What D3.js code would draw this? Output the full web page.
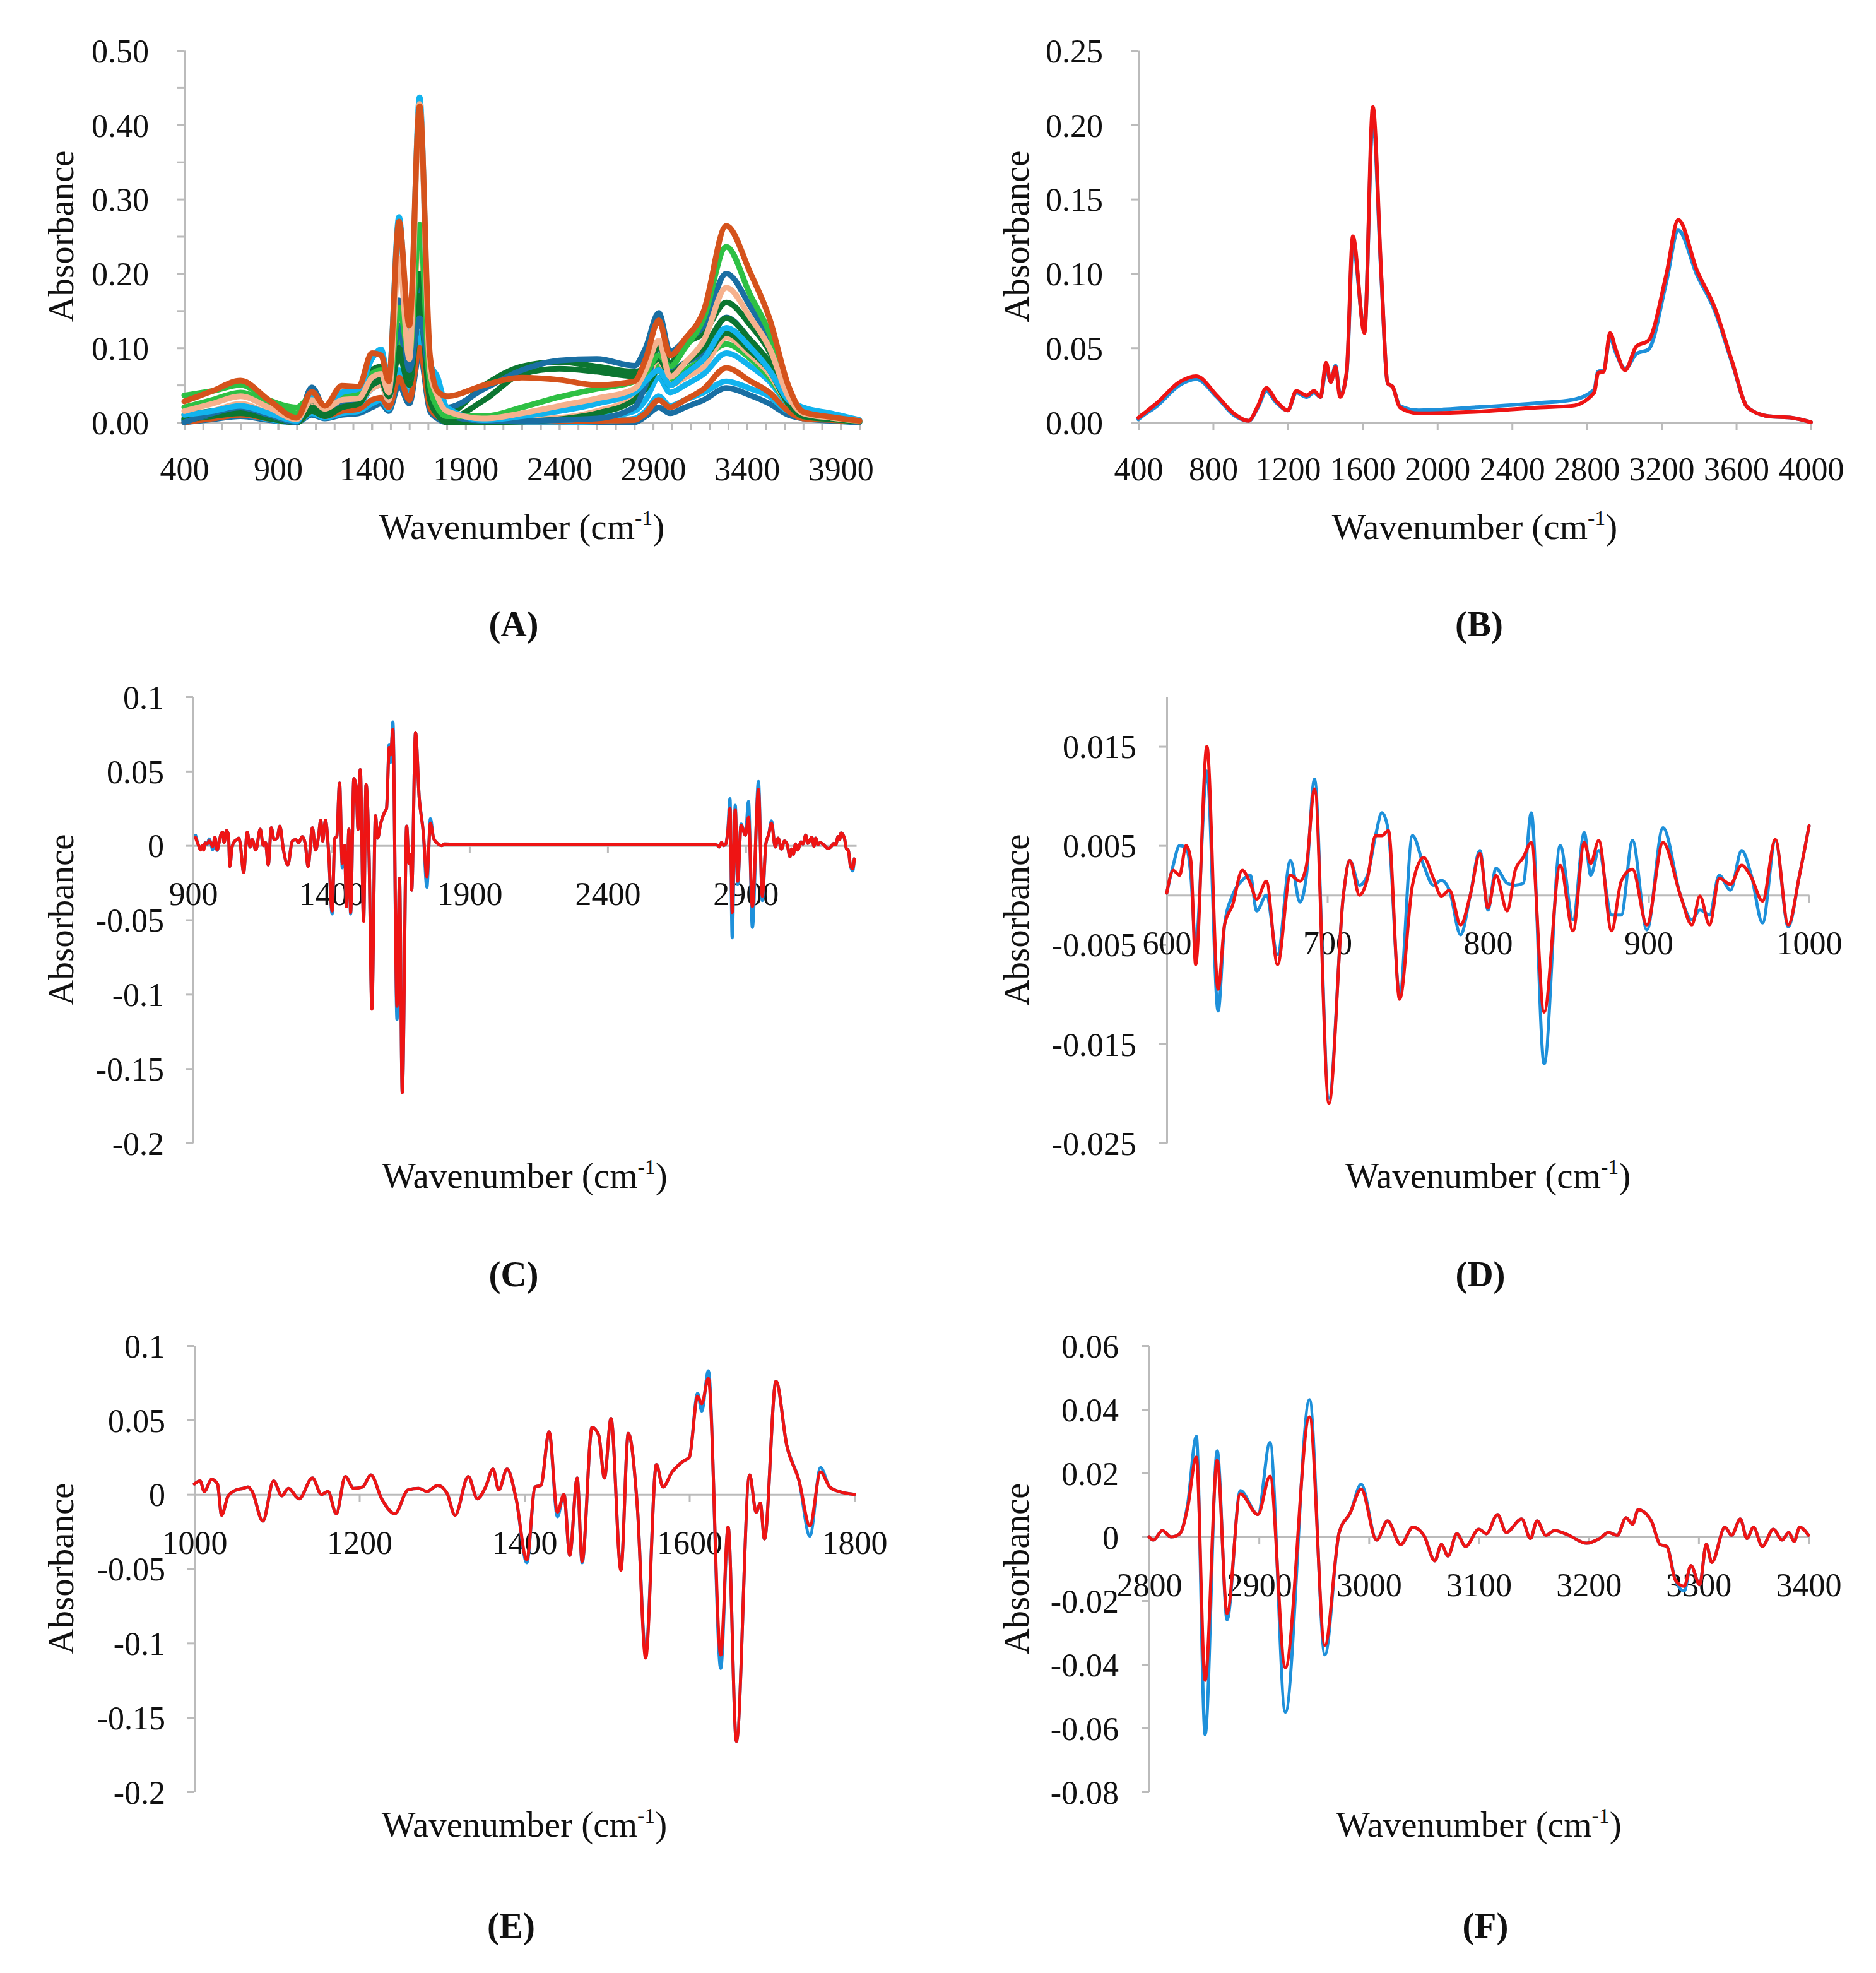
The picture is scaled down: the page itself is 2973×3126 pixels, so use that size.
<!DOCTYPE html>
<html>
<head>
<meta charset="utf-8">
<script src="https://cdn.jsdelivr.net/npm/d3@7"></script>
<style>
  body { margin: 0; background: #fff; }
  svg { display: block; }
</style>
</head>
<body>
<svg id="fig" width="2973" height="3126"></svg>
<script>
// ---------- panel A : raw spectra (values on a common wavenumber grid) ----------
const waveA = [400, 550, 700, 850, 1000, 1080, 1150, 1240, 1330, 1400, 1450, 1490, 1545, 1600, 1655, 1710, 1750, 1800, 2000, 2200, 2400, 2600, 2800, 2860, 2930, 2990, 3070, 3170, 3290, 3420, 3520, 3620, 3700, 3850, 4000];
const aOrange1   = [0.028, 0.042, 0.056, 0.030, 0.006, 0.041, 0.022, 0.049, 0.048, 0.093, 0.090, 0.055, 0.270, 0.130, 0.425, 0.090, 0.042, 0.035, 0.050, 0.060, 0.057, 0.050, 0.055, 0.085, 0.137, 0.090, 0.112, 0.150, 0.264, 0.200, 0.140, 0.050, 0.014, 0.007, 0.002];
const aPeach1    = [0.015, 0.025, 0.035, 0.020, 0.004, 0.030, 0.018, 0.030, 0.032, 0.060, 0.065, 0.040, 0.220, 0.085, 0.428, 0.070, 0.035, 0.015, 0.005, 0.012, 0.022, 0.032, 0.045, 0.070, 0.110, 0.061, 0.080, 0.110, 0.181, 0.140, 0.100, 0.035, 0.012, 0.006, 0.002];
const aCyan1     = [0.010, 0.015, 0.022, 0.012, 0.002, 0.035, 0.020, 0.040, 0.045, 0.085, 0.098, 0.055, 0.276, 0.100, 0.437, 0.080, 0.061, 0.020, 0.003, 0.008, 0.015, 0.025, 0.040, 0.055, 0.070, 0.050, 0.065, 0.085, 0.127, 0.100, 0.070, 0.030, 0.020, 0.012, 0.003];
const aPeach2    = [0.008, 0.015, 0.025, 0.012, 0.002, 0.028, 0.015, 0.025, 0.028, 0.045, 0.050, 0.030, 0.147, 0.080, 0.253, 0.050, 0.025, 0.010, 0.004, 0.004, 0.006, 0.015, 0.035, 0.055, 0.085, 0.050, 0.060, 0.075, 0.114, 0.090, 0.065, 0.025, 0.010, 0.005, 0.001];
const aGreen1    = [0.036, 0.042, 0.050, 0.030, 0.020, 0.035, 0.020, 0.035, 0.038, 0.065, 0.070, 0.045, 0.154, 0.090, 0.266, 0.050, 0.020, 0.008, 0.008, 0.020, 0.034, 0.045, 0.055, 0.065, 0.090, 0.075, 0.100, 0.140, 0.236, 0.170, 0.120, 0.040, 0.012, 0.006, 0.002];
const aDarkBlue1 = [0.000, 0.012, 0.020, 0.010, 0.000, 0.047, 0.020, 0.030, 0.035, 0.060, 0.065, 0.040, 0.164, 0.070, 0.140, 0.060, 0.030, 0.020, 0.045, 0.070, 0.083, 0.085, 0.076, 0.100, 0.147, 0.095, 0.110, 0.130, 0.200, 0.155, 0.110, 0.040, 0.015, 0.008, 0.002];
const aDarkGreen1 = [0.010, 0.015, 0.020, 0.010, 0.000, 0.030, 0.015, 0.035, 0.040, 0.070, 0.075, 0.050, 0.150, 0.125, 0.200, 0.050, 0.020, 0.012, 0.050, 0.075, 0.081, 0.075, 0.068, 0.075, 0.100, 0.080, 0.105, 0.120, 0.161, 0.130, 0.095, 0.035, 0.012, 0.006, 0.002];
const aDarkGreen2 = [0.005, 0.010, 0.015, 0.008, 0.000, 0.020, 0.010, 0.020, 0.025, 0.050, 0.055, 0.035, 0.100, 0.060, 0.170, 0.040, 0.015, 0.005, 0.030, 0.065, 0.072, 0.068, 0.062, 0.070, 0.085, 0.065, 0.080, 0.100, 0.140, 0.110, 0.080, 0.030, 0.010, 0.005, 0.001];
const aOrange2   = [0.000, 0.005, 0.010, 0.005, 0.000, 0.015, 0.008, 0.015, 0.018, 0.030, 0.033, 0.020, 0.060, 0.030, 0.100, 0.020, 0.008, 0.002, 0.001, 0.001, 0.001, 0.002, 0.003, 0.012, 0.030, 0.020, 0.030, 0.045, 0.073, 0.055, 0.040, 0.015, 0.005, 0.003, 0.001];
const aCyan2     = [0.005, 0.010, 0.018, 0.008, 0.000, 0.025, 0.012, 0.022, 0.025, 0.045, 0.050, 0.030, 0.120, 0.050, 0.200, 0.040, 0.030, 0.010, 0.002, 0.002, 0.003, 0.006, 0.015, 0.030, 0.060, 0.040, 0.050, 0.065, 0.093, 0.075, 0.055, 0.025, 0.018, 0.010, 0.002];
const aDarkBlue2 = [0.003, 0.010, 0.018, 0.008, 0.000, 0.030, 0.015, 0.025, 0.030, 0.050, 0.055, 0.035, 0.130, 0.060, 0.180, 0.045, 0.025, 0.010, 0.002, 0.002, 0.003, 0.005, 0.020, 0.050, 0.100, 0.070, 0.080, 0.095, 0.141, 0.110, 0.080, 0.030, 0.012, 0.006, 0.002];
const aDarkBlue3 = [0.000, 0.004, 0.008, 0.003, 0.000, 0.010, 0.005, 0.010, 0.012, 0.020, 0.025, 0.015, 0.050, 0.025, 0.093, 0.015, 0.005, 0.000, 0.000, 0.000, 0.000, 0.000, 0.000, 0.008, 0.020, 0.012, 0.020, 0.030, 0.046, 0.036, 0.025, 0.010, 0.005, 0.002, 0.000];
const aGreen2    = [0.020, 0.030, 0.040, 0.025, 0.012, 0.025, 0.012, 0.025, 0.028, 0.050, 0.055, 0.035, 0.110, 0.060, 0.200, 0.040, 0.015, 0.004, 0.003, 0.010, 0.020, 0.030, 0.042, 0.050, 0.076, 0.055, 0.070, 0.085, 0.105, 0.085, 0.060, 0.025, 0.008, 0.004, 0.001];
const aDarkGreen3 = [0.003, 0.008, 0.012, 0.005, 0.000, 0.015, 0.008, 0.020, 0.025, 0.055, 0.060, 0.035, 0.090, 0.050, 0.150, 0.030, 0.010, 0.000, 0.000, 0.001, 0.004, 0.012, 0.030, 0.045, 0.070, 0.050, 0.065, 0.085, 0.120, 0.095, 0.070, 0.025, 0.008, 0.004, 0.001];
const aCyan3     = [0.002, 0.006, 0.010, 0.004, 0.000, 0.012, 0.006, 0.012, 0.015, 0.025, 0.030, 0.018, 0.070, 0.035, 0.120, 0.025, 0.010, 0.002, 0.000, 0.000, 0.000, 0.001, 0.005, 0.015, 0.035, 0.022, 0.030, 0.040, 0.055, 0.045, 0.035, 0.015, 0.012, 0.008, 0.002];

// ---------- panel B : mean spectra ----------
const waveB = [400, 420, 500, 620, 710, 820, 910, 990, 1040, 1085, 1140, 1200, 1245, 1300, 1340, 1375, 1405, 1430, 1455, 1480, 1515, 1548, 1610, 1655, 1700, 1735, 1760, 1800, 1900, 2200, 2550, 2720, 2840, 2860, 2890, 2925, 2955, 3005, 3065, 3130, 3225, 3290, 3390, 3485, 3580, 3660, 3775, 3900, 4000];
const bRed  = [0.003, 0.005, 0.013, 0.027, 0.031, 0.018, 0.006, 0.001, 0.011, 0.023, 0.014, 0.008, 0.021, 0.018, 0.021, 0.017, 0.040, 0.027, 0.037, 0.017, 0.034, 0.125, 0.060, 0.212, 0.100, 0.026, 0.024, 0.010, 0.006, 0.007, 0.010, 0.011, 0.020, 0.033, 0.034, 0.060, 0.049, 0.035, 0.051, 0.055, 0.099, 0.136, 0.102, 0.077, 0.040, 0.010, 0.004, 0.003, 0.000];
const bBlue = [0.002, 0.004, 0.011, 0.025, 0.029, 0.017, 0.005, 0.001, 0.010, 0.021, 0.013, 0.008, 0.020, 0.017, 0.020, 0.017, 0.036, 0.027, 0.038, 0.018, 0.033, 0.120, 0.062, 0.205, 0.098, 0.026, 0.024, 0.011, 0.008, 0.010, 0.013, 0.015, 0.022, 0.034, 0.035, 0.057, 0.047, 0.036, 0.046, 0.049, 0.094, 0.129, 0.099, 0.075, 0.039, 0.010, 0.004, 0.003, 0.000];

// ---------- panel D : second derivative 600-1000 ----------
const waveD = [600, 604, 608, 612, 615, 618, 625, 632, 636, 641, 647, 652, 656, 662, 669, 677, 683, 687, 692, 701, 710, 714, 720, 725, 730, 734, 738, 745, 753, 760, 766, 771, 776, 783, 789, 795, 800, 805, 812, 817, 822, 827, 835, 845, 853, 860, 864, 869, 877, 883, 890, 899, 909, 920, 927, 932, 938, 944, 951, 958, 964, 971, 979, 987, 994, 1000];
const dRed  = [0.0002, 0.0025, 0.002, 0.005, 0.0035, -0.007, 0.015, -0.0095, -0.003, -0.001, 0.0025, 0.0012, -0.0004, 0.0014, -0.007, 0.002, 0.0014, 0.003, 0.0107, -0.021, 0.0, 0.0035, 0.0, 0.0017, 0.006, 0.006, 0.0065, -0.0105, 0.001, 0.0038, 0.0017, -0.0001, 0.0005, -0.003, 0.0, 0.0042, -0.0013, 0.002, -0.0016, 0.0025, 0.0038, 0.0053, -0.0118, 0.003, -0.0036, 0.0053, 0.0032, 0.0055, -0.0036, 0.0014, 0.0026, -0.003, 0.0053, -0.0001, -0.003, -0.0001, -0.003, 0.0017, 0.0011, 0.003, 0.0018, -0.0006, 0.0056, -0.003, 0.002, 0.007];
const dBlue = [0.0002, 0.003, 0.005, 0.0048, 0.002, -0.005, 0.0125, -0.0117, -0.003, 0.0, 0.0015, 0.002, -0.0016, 0.0, -0.006, 0.0035, -0.0007, 0.002, 0.0117, -0.0205, 0.0, 0.0035, 0.001, 0.002, 0.006, 0.0083, 0.0065, -0.01, 0.006, 0.003, 0.001, 0.0015, 0.0005, -0.004, 0.0, 0.0045, -0.0015, 0.0027, 0.0012, 0.001, 0.0012, 0.0083, -0.017, 0.005, -0.0025, 0.0063, 0.002, 0.0045, -0.002, -0.002, 0.0055, -0.0035, 0.0068, -0.0001, -0.0025, -0.0015, -0.002, 0.002, 0.0005, 0.0045, 0.002, -0.0028, 0.0055, -0.0032, 0.002, 0.007];

// ---------- panel E : second derivative 1000-1800 ----------
const waveE = [1000, 1007, 1012, 1021, 1028, 1033, 1041, 1051, 1059, 1065, 1070, 1083, 1096, 1106, 1114, 1127, 1143, 1154, 1162, 1172, 1183, 1193, 1204, 1214, 1227, 1243, 1259, 1272, 1282, 1295, 1306, 1316, 1332, 1343, 1353, 1362, 1369, 1379, 1390, 1403, 1413, 1420, 1430, 1440, 1448, 1455, 1464, 1470, 1482, 1490, 1497, 1505, 1517, 1526, 1537, 1547, 1560, 1568, 1579, 1592, 1600, 1610, 1615, 1623, 1638, 1647, 1657, 1673, 1681, 1686, 1691, 1705, 1718, 1733, 1746, 1759, 1770, 1781, 1800];
const eRed  = [0.007, 0.009, 0.002, 0.010, 0.007, -0.014, -0.001, 0.003, 0.004, 0.005, 0.002, -0.018, 0.009, -0.001, 0.004, -0.003, 0.011, 0.000, 0.002, -0.013, 0.012, 0.004, 0.005, 0.013, -0.003, -0.013, 0.003, 0.004, 0.002, 0.006, 0.001, -0.014, 0.012, -0.003, 0.005, 0.017, 0.003, 0.017, -0.003, -0.044, 0.005, 0.006, 0.042, -0.012, 0.000, -0.041, 0.011, -0.045, 0.045, 0.040, 0.011, 0.051, -0.051, 0.041, -0.009, -0.110, 0.020, 0.005, 0.015, 0.022, 0.025, 0.066, 0.061, 0.078, -0.108, -0.022, -0.166, 0.013, -0.012, -0.006, -0.030, 0.076, 0.033, 0.009, -0.021, 0.015, 0.005, 0.002, 0.000];
const eBlue = [0.007, 0.009, 0.002, 0.010, 0.007, -0.014, -0.001, 0.003, 0.004, 0.005, 0.002, -0.018, 0.009, -0.001, 0.004, -0.003, 0.011, 0.000, 0.002, -0.013, 0.012, 0.004, 0.005, 0.013, -0.003, -0.013, 0.003, 0.004, 0.002, 0.006, 0.001, -0.014, 0.012, -0.003, 0.005, 0.017, 0.003, 0.017, -0.003, -0.046, 0.005, 0.006, 0.042, -0.015, 0.000, -0.041, 0.011, -0.046, 0.045, 0.040, 0.011, 0.051, -0.050, 0.041, -0.009, -0.107, 0.020, 0.005, 0.015, 0.022, 0.025, 0.068, 0.056, 0.083, -0.117, -0.022, -0.166, 0.013, -0.012, -0.006, -0.030, 0.076, 0.033, 0.009, -0.028, 0.018, 0.005, 0.002, 0.000];

// ---------- panel F : second derivative 2800-3400 ----------
const waveF = [2800, 2804, 2812, 2820, 2828, 2835, 2843, 2851, 2862, 2871, 2883, 2899, 2910, 2924, 2946, 2960, 2973, 2983, 2993, 3007, 3017, 3029, 3040, 3050, 3060, 3066, 3072, 3080, 3088, 3100, 3107, 3117, 3125, 3139, 3147, 3153, 3161, 3169, 3182, 3198, 3210, 3218, 3226, 3234, 3240, 3245, 3257, 3265, 3271, 3279, 3287, 3293, 3301, 3307, 3312, 3324, 3330, 3338, 3344, 3350, 3358, 3368, 3376, 3382, 3387, 3392, 3400];
const fRed  = [0.000, -0.001, 0.002, 0.000, 0.001, 0.009, 0.025, -0.045, 0.024, -0.024, 0.0135, 0.007, 0.019, -0.041, 0.0376, -0.034, 0.0014, 0.0075, 0.015, -0.001, 0.005, -0.0024, 0.003, 0.0005, -0.0075, -0.0024, -0.006, 0.001, -0.003, 0.0024, 0.001, 0.007, 0.0014, 0.0056, -0.0005, 0.005, 0.0005, 0.002, 0.0005, -0.002, -0.0005, 0.0014, 0.0005, 0.006, 0.004, 0.0085, 0.005, -0.0024, -0.003, -0.0136, -0.0155, -0.009, -0.015, -0.0024, -0.008, 0.003, 0.0005, 0.0056, -0.0005, 0.003, -0.003, 0.0024, -0.001, 0.0014, -0.0014, 0.003, 0.0005];
const fBlue = [0.000, -0.001, 0.002, 0.000, 0.001, 0.010, 0.0315, -0.062, 0.027, -0.026, 0.0145, 0.007, 0.0296, -0.055, 0.043, -0.037, 0.0014, 0.0075, 0.0165, -0.001, 0.005, -0.0024, 0.003, 0.0005, -0.0075, -0.0024, -0.006, 0.001, -0.003, 0.0024, 0.001, 0.007, 0.0014, 0.0056, -0.0005, 0.005, 0.0005, 0.002, 0.0005, -0.002, -0.0005, 0.0014, 0.0005, 0.006, 0.004, 0.0085, 0.005, -0.0024, -0.003, -0.0136, -0.017, -0.009, -0.015, -0.0024, -0.008, 0.003, 0.0005, 0.0056, -0.0005, 0.003, -0.003, 0.0024, -0.001, 0.0014, -0.0014, 0.003, 0.0005];

// flat stretch of panel C between the two derivative windows
const waveFlat = [1810, 1850, 2300, 2790];
const flatRed  = [0.001, 0.0008, 0.0008, 0.0005];

// ---------- tick labels ----------
const xTicksA = [400, 900, 1400, 1900, 2400, 2900, 3400, 3900];
const yTicksA = [0, 0.1, 0.2, 0.3, 0.4, 0.5];
const yLabelsA = ["0.00", "0.10", "0.20", "0.30", "0.40", "0.50"];
const xTicksB = [400, 800, 1200, 1600, 2000, 2400, 2800, 3200, 3600, 4000];
const yTicksB = [0, 0.05, 0.1, 0.15, 0.2, 0.25];
const yLabelsB = ["0.00", "0.05", "0.10", "0.15", "0.20", "0.25"];
const xTicksC = [900, 1400, 1900, 2400, 2900];
const yTicksCE = [-0.2, -0.15, -0.1, -0.05, 0, 0.05, 0.1];
const yLabelsCE = ["-0.2", "-0.15", "-0.1", "-0.05", "0", "0.05", "0.1"];
const xTicksD = [600, 700, 800, 900, 1000];
const yTicksD = [-0.025, -0.015, -0.005, 0.005, 0.015];
const yLabelsD = ["-0.025", "-0.015", "-0.005", "0.005", "0.015"];
const xTicksE = [1000, 1200, 1400, 1600, 1800];
const xTicksF = [2800, 2900, 3000, 3100, 3200, 3300, 3400];
const yTicksF = [-0.08, -0.06, -0.04, -0.02, 0, 0.02, 0.04, 0.06];
const yLabelsF = ["-0.08", "-0.06", "-0.04", "-0.02", "0", "0.02", "0.04", "0.06"];

// ---------- drawing ----------
const svg = d3.select("#fig");
svg.append("rect").attr("width", 2973).attr("height", 3126).attr("fill", "#fff");

const FONT = "'Liberation Serif', 'Times New Roman', serif";
const AXIS = "#BBBBBB";
const BLUE = "#1E90DA";
const RED = "#EE1414";

const zip = (xs, ys) => xs.map((x, i) => [x, ys[i]]);

function panel(cfg) {
  const g = svg.append("g");
  const x = d3.scaleLinear().domain(cfg.xDomain).range([cfg.left, cfg.right]);
  const y = d3.scaleLinear().domain(cfg.yDomain).range([cfg.bottom, cfg.top]);
  const xAxisY = cfg.zeroAxis ? y(0) : cfg.bottom;

  // y axis
  const ya = g.append("g")
    .attr("transform", `translate(${cfg.left},0)`)
    .call(d3.axisLeft(y).tickValues(cfg.yTicks).tickFormat((d, i) => cfg.yLabels[i]).tickSize(12).tickSizeOuter(0));
  if (cfg.yMinor) {
    g.append("g").attr("transform", `translate(${cfg.left},0)`)
      .call(d3.axisLeft(y).tickValues(cfg.yMinor).tickFormat("").tickSize(12).tickSizeOuter(0));
  }
  // x axis
  const xa = g.append("g")
    .attr("transform", `translate(0,${xAxisY})`)
    .call(d3.axisBottom(x).tickValues(cfg.xTicks).tickFormat(d => String(d)).tickSize(12).tickSizeOuter(0));
  if (cfg.xMinor) {
    g.append("g").attr("transform", `translate(0,${xAxisY})`)
      .call(d3.axisBottom(x).tickValues(cfg.xMinor).tickFormat("").tickSize(12).tickSizeOuter(0));
  }

  g.selectAll(".domain, .tick line").attr("stroke", AXIS).attr("stroke-width", 3);
  g.selectAll("g").attr("font-family", FONT).attr("font-size", 52);
  g.selectAll(".tick text").attr("fill", "#111");
  ya.selectAll(".tick text").attr("x", -cfg.yLabelGap).attr("dy", "0.35em");
  xa.selectAll(".tick text").attr("y", cfg.xLabelOffset).attr("dy", "0.35em");

  // spectra
  const line = d3.line().x(d => x(d[0])).y(d => y(d[1])).curve(d3.curveMonotoneX);
  cfg.series.forEach(s => {
    g.append("path")
      .datum(s.points)
      .attr("fill", "none")
      .attr("stroke", s.color)
      .attr("stroke-width", s.width)
      .attr("stroke-linejoin", "round")
      .attr("stroke-linecap", "round")
      .attr("d", line);
  });

  // x title
  const cx = (cfg.left + cfg.right) / 2;
  const t = svg.append("text")
    .attr("x", cx).attr("y", cfg.xTitleY + 20)
    .attr("text-anchor", "middle")
    .attr("font-family", FONT).attr("font-size", 57).attr("fill", "#111");
  t.append("tspan").text("Wavenumber (cm");
  t.append("tspan").attr("font-size", 34).attr("dy", -22).text("-1");
  t.append("tspan").attr("dy", 22).text(")");

  // y title
  const cy = (cfg.top + cfg.bottom) / 2;
  svg.append("text")
    .attr("transform", `translate(${cfg.yTitleX},${cy}) rotate(-90)`)
    .attr("text-anchor", "middle").attr("dy", "0.35em")
    .attr("font-family", FONT).attr("font-size", 57).attr("fill", "#111")
    .text("Absorbance");

  // panel letter
  svg.append("text")
    .attr("x", cfg.letterX).attr("y", cfg.letterY + 20)
    .attr("text-anchor", "middle")
    .attr("font-family", FONT).attr("font-size", 57).attr("font-weight", "bold").attr("fill", "#111")
    .text(cfg.letter);
}

// palette for panel A
const aColors = {
  orange: "#D5531C", peach: "#F6B18D", cyan: "#12B3EE",
  darkblue: "#1A6FA3", green: "#2EC044", darkgreen: "#0C7631"
};
const seriesA = [
  [aDarkBlue3, "darkblue"], [aCyan3, "cyan"], [aOrange2, "orange"], [aCyan2, "cyan"],
  [aGreen2, "green"], [aPeach2, "peach"], [aDarkGreen3, "darkgreen"], [aDarkBlue2, "darkblue"],
  [aDarkGreen2, "darkgreen"], [aDarkGreen1, "darkgreen"], [aDarkBlue1, "darkblue"],
  [aGreen1, "green"], [aCyan1, "cyan"], [aPeach1, "peach"], [aOrange1, "orange"]
].map(([vals, c]) => ({ points: zip(waveA, vals), color: aColors[c], width: 9 }));

panel({
  left: 292, right: 1362, top: 80, bottom: 669,
  xDomain: [400, 4000], yDomain: [0, 0.5],
  xTicks: xTicksA, xMinor: d3.range(400, 4001, 100), xLabelOffset: 74,
  yTicks: yTicksA, yLabels: yLabelsA, yMinor: [0.05, 0.15, 0.25, 0.35, 0.45],
  yLabelGap: 56, series: seriesA,
  xTitleY: 834, yTitleX: 96, letter: "(A)", letterX: 814, letterY: 988
});

panel({
  left: 1804, right: 2870, top: 80, bottom: 669,
  xDomain: [400, 4000], yDomain: [0, 0.25],
  xTicks: xTicksB, xLabelOffset: 74, yTicks: yTicksB, yLabels: yLabelsB,
  yLabelGap: 56,
  series: [
    { points: zip(waveB, bBlue), color: BLUE, width: 6 },
    { points: zip(waveB, bRed), color: RED, width: 6 }
  ],
  xTitleY: 834, yTitleX: 1610, letter: "(B)", letterX: 2344, letterY: 988
});

// panel C joins the three derivative windows
const cut = (xs, ys, lo, hi) => zip(xs, ys).filter(d => d[0] >= lo && d[0] <= hi);
const cRed = [].concat(cut(waveD, dRed, 900, 999), zip(waveE, eRed), zip(waveFlat, flatRed), cut(waveF, fRed, 2800, 3300));
const cBlue = [].concat(cut(waveD, dBlue, 900, 999), zip(waveE, eBlue), zip(waveFlat, flatRed), cut(waveF, fBlue, 2800, 3300));

panel({
  left: 306, right: 1357, top: 1104, bottom: 1811, zeroAxis: true,
  xDomain: [900, 3300], yDomain: [-0.2, 0.1],
  xTicks: xTicksC, xLabelOffset: 76, yTicks: yTicksCE, yLabels: yLabelsCE,
  yLabelGap: 46,
  series: [
    { points: cBlue, color: BLUE, width: 5 },
    { points: cRed, color: RED, width: 5 }
  ],
  xTitleY: 1862, yTitleX: 96, letter: "(C)", letterX: 814, letterY: 2018
});

panel({
  left: 1849, right: 2867, top: 1104, bottom: 1811, zeroAxis: true,
  xDomain: [600, 1000], yDomain: [-0.025, 0.02],
  xTicks: xTicksD, xLabelOffset: 76, yTicks: yTicksD, yLabels: yLabelsD,
  yLabelGap: 48,
  series: [
    { points: zip(waveD, dBlue), color: BLUE, width: 5 },
    { points: zip(waveD, dRed), color: RED, width: 5 }
  ],
  xTitleY: 1862, yTitleX: 1610, letter: "(D)", letterX: 2346, letterY: 2018
});

panel({
  left: 308, right: 1354, top: 2132, bottom: 2839, zeroAxis: true,
  xDomain: [1000, 1800], yDomain: [-0.2, 0.1],
  xTicks: xTicksE, xLabelOffset: 76, yTicks: yTicksCE, yLabels: yLabelsCE,
  yLabelGap: 46,
  series: [
    { points: zip(waveE, eBlue), color: BLUE, width: 5 },
    { points: zip(waveE, eRed), color: RED, width: 5 }
  ],
  xTitleY: 2890, yTitleX: 96, letter: "(E)", letterX: 810, letterY: 3050
});

panel({
  left: 1821, right: 2866, top: 2132, bottom: 2839, zeroAxis: true,
  xDomain: [2800, 3400], yDomain: [-0.08, 0.06],
  xTicks: xTicksF, xLabelOffset: 76, yTicks: yTicksF, yLabels: yLabelsF,
  yLabelGap: 48,
  series: [
    { points: zip(waveF, fBlue), color: BLUE, width: 5 },
    { points: zip(waveF, fRed), color: RED, width: 5 }
  ],
  xTitleY: 2890, yTitleX: 1610, letter: "(F)", letterX: 2354, letterY: 3050
});
</script>
</body>
</html>
